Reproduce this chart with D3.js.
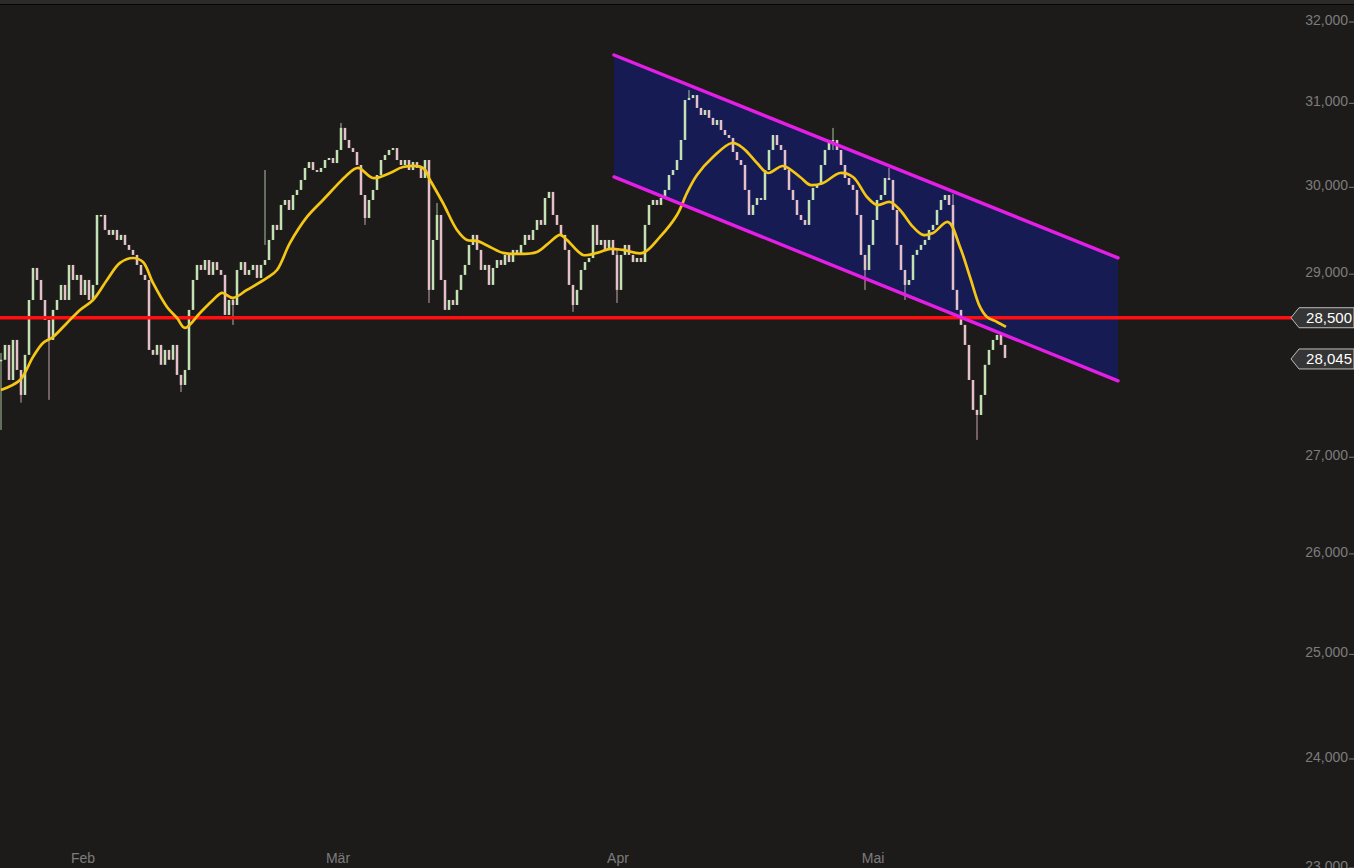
<!DOCTYPE html>
<html><head><meta charset="utf-8">
<script src="https://cdn.jsdelivr.net/npm/d3@7"></script>
<style>html,body{margin:0;padding:0;background:#1c1b1a;overflow:hidden}</style>
</head><body><svg id="c" width="1354" height="868"></svg>
<script>
// ---- data (one close per bar) ----
const closes = [
28025,28188,27805,28243,27914,27643,28079,28687,29048,28912,28687,28464,28243,28576,28687,28856,28687,29082,28912,28969,
28743,28912,28687,28856,29655,29655,29482,29425,29482,29367,29425,29310,29253,29196,29082,28969,28912,28133,28079,28188,
27970,28133,28025,28188,27860,27751,27914,28576,28912,29082,29025,29138,28969,29115,29025,28969,28520,28687,28631,29025,
29115,28969,29025,29082,28935,29082,29138,29367,29540,29482,29771,29829,29713,29887,29946,30063,30204,30274,30180,30157,
30204,30298,30322,30262,30417,30680,30536,30440,30393,30239,29887,29620,29829,29946,30121,30298,30357,30417,30440,30298,
30239,30298,30180,30274,30204,30086,30298,28800,29367,29655,28912,28576,28687,28631,28800,28969,29082,29310,29425,29253,
29025,29082,28856,29048,29138,29082,29196,29115,29253,29196,29310,29425,29367,29482,29597,29540,29852,29923,29655,29540,
29425,29253,28856,28631,28800,29025,29115,29161,29540,29310,29367,29253,29367,29196,28800,29196,29310,29196,29115,29161,
29115,29540,29771,29829,29771,29852,29946,30121,30180,30298,30536,31016,31040,31076,30920,30835,30895,30800,30715,30775,
30655,30595,30560,30393,30298,30239,29946,29655,29771,29852,29829,30180,30417,30595,30476,30417,30180,29946,29829,29655,
29597,29540,29829,29970,30005,30239,30417,30536,30536,30417,30239,30086,30005,29946,29655,29196,29025,29310,29597,29829,
29887,30086,30063,29713,29310,29025,28856,28912,29196,29253,29310,29367,29482,29540,29713,29829,29887,29771,28800,28576,
28409,28188,27805,27482,27428,27643,27970,28133,28243,28298,28188,28045
];
const wickBars  = [0,     5,     12,    45,    58,    66,    85,    91,    107,   109,   143,   154,   172,   208,   216,   222,   226,   244,   238];
const wickHighs = [28100, 27900, 28300, 27800, 28700, 30180, 30740, 29887, 30298, 29794, 28800, 29253, 31137, 30680, 29196, 30204, 28912, 27482, 29900];
const wickLows  = [27268, 27560, 27590, 27675, 28409, 29310, 30536, 29540, 28654, 29367, 28554, 28654, 31016, 30417, 28800, 30063, 28687, 27162, 29700];

const maBars = [0,4.75,8,10.5,13,16.5,19.75,23,26.5,29.75,33,35.5,38,41.5,44,46,49.75,53,55.25,58,61.5,66.5,69,72.25,76.5,80.5,84.75,86.25,89.25,93,97.25,100.5,105.5,107.25,110.5,114,116.5,119,122.25,125.5,129,134,137.25,139.75,141.5,145.5,149,152.25,155.5,160.5,164.75,169,171.5,174,178,182.75,185.5,189,191.75,195.5,199.75,202.25,205.5,209.75,213,216.5,219,222.25,224.75,228,230.5,233,236.75,239.75,242.25,244.75,246.5,249,251.25];
const maValues = [27697,27805,28057,28210,28276,28431,28576,28687,28912,29105,29161,29115,28878,28609,28486,28376,28542,28687,28766,28710,28800,28935,29025,29333,29632,29829,30040,30110,30204,30086,30145,30215,30204,30063,29794,29482,29367,29356,29287,29219,29207,29230,29344,29425,29367,29196,29219,29264,29253,29219,29402,29655,29911,30121,30333,30500,30440,30262,30145,30227,30098,30005,30028,30145,30098,29864,29771,29806,29713,29517,29425,29448,29574,29287,28946,28609,28497,28442,28387];

const channelBars  = [153.25, 279.25];
const channelUpper = [31566, 29162];
const channelLower = [30099, 27796];
const levelValue = 28500;
const lastValue  = 28045;
const yTicks = [23000,24000,25000,26000,27000,28000,29000,30000,31000,32000];
const monthLabels = ["Feb","Mär","Apr","Mai"];
const monthBars   = [20.5, 84.25, 154.25, 218];

// ---- drawing ----
const W = 1354, H = 868;
const svg = d3.select("#c");
const x = d3.scaleLinear().domain([0, closes.length - 1]).range([1, 1005]);
const y = d3.scaleLog().domain([23000, 32000]).range([866, 20]);
const fmt = d3.format(",");
const font = "'Liberation Sans', Arial, sans-serif";

svg.append("rect").attr("width", W).attr("height", H).attr("fill", "#1c1b1a");
svg.append("rect").attr("width", W).attr("height", 4).attr("fill", "#2c2b2a");
svg.append("line").attr("x1", 0).attr("x2", W).attr("y1", 4.5).attr("y2", 4.5).attr("stroke", "#050505");

// channel fill
const poly = [
  [x(channelBars[0]), y(channelUpper[0])], [x(channelBars[1]), y(channelUpper[1])],
  [x(channelBars[1]), y(channelLower[1])], [x(channelBars[0]), y(channelLower[0])]
];
svg.append("polygon").attr("points", poly.map(p => p.join(",")).join(" ")).attr("fill", "#161b54");

// candles
const upC = "#c3e2b4", dnC = "#e4c0c9";
const bars = closes.map((c, i) => ({i, o: i > 0 ? closes[i - 1] : c, c}));
const wg = svg.append("g");
wickBars.forEach((b, k) => {
  const d = bars[b];
  wg.append("line").attr("x1", x(b)).attr("x2", x(b))
    .attr("y1", y(wickHighs[k])).attr("y2", y(wickLows[k]))
    .attr("stroke", d.c >= d.o ? upC : dnC).attr("stroke-width", 1).attr("opacity", 0.85);
});
svg.append("g").selectAll("rect").data(bars).join("rect")
  .attr("x", d => x(d.i) - 1.25)
  .attr("width", 2.5)
  .attr("y", d => y(Math.max(d.o, d.c)))
  .attr("height", d => Math.max(1.5, Math.abs(y(d.o) - y(d.c))))
  .attr("fill", d => d.c >= d.o ? upC : dnC);

// level line
svg.append("line").attr("x1", 0).attr("x2", 1292)
  .attr("y1", y(levelValue) + 1).attr("y2", y(levelValue) + 1)
  .attr("stroke", "#ff1010").attr("stroke-width", 3.5);

// moving average
const ma = maBars.map((b, k) => ({b, v: maValues[k]}));
svg.append("path").datum(ma)
  .attr("d", d3.line().x(d => x(d.b)).y(d => y(d.v)).curve(d3.curveCatmullRom.alpha(0.5)))
  .attr("fill", "none").attr("stroke", "#f6c614").attr("stroke-width", 2.7);

// channel lines
[channelUpper, channelLower].forEach(arr => {
  svg.append("line")
    .attr("x1", x(channelBars[0])).attr("y1", y(arr[0]))
    .attr("x2", x(channelBars[1])).attr("y2", y(arr[1]))
    .attr("stroke", "#e41ee4").attr("stroke-width", 3.4).attr("stroke-linecap", "round");
});

// y axis
const ya = svg.append("g");
yTicks.forEach(t => {
  if (t === 28000) return;
  const yy = y(t);
  ya.append("text").attr("x", 1348).attr("y", yy + 1).attr("text-anchor", "end")
    .attr("dominant-baseline", "middle").attr("font-family", font).attr("font-size", 14)
    .attr("fill", "#7c7c7c").text(fmt(t));
  ya.append("line").attr("x1", 1349).attr("x2", 1354).attr("y1", yy + 2).attr("y2", yy + 2)
    .attr("stroke", "#7c7c7c").attr("stroke-width", 1);
});

// x axis
monthLabels.forEach((m, k) => {
  svg.append("text").attr("x", x(monthBars[k])).attr("y", 863).attr("text-anchor", "middle")
    .attr("font-family", font).attr("font-size", 14).attr("fill", "#7c7c7c").text(m);
});

// price tags
function tag(v) {
  const cy = y(v) + 1;
  const g = svg.append("g");
  g.append("path").attr("d", `M1291,${cy} L1299,${cy - 10} L1354,${cy - 10} L1354,${cy + 10} L1299,${cy + 10} Z`)
    .attr("fill", "#353535").attr("stroke", "#bdbdbd").attr("stroke-width", 1);
  g.append("text").attr("x", 1352).attr("y", cy + 1).attr("text-anchor", "end")
    .attr("dominant-baseline", "middle").attr("font-family", font).attr("font-size", 15)
    .attr("fill", "#ffffff").text(fmt(v));
}
tag(levelValue);
tag(lastValue);
</script></body></html>
